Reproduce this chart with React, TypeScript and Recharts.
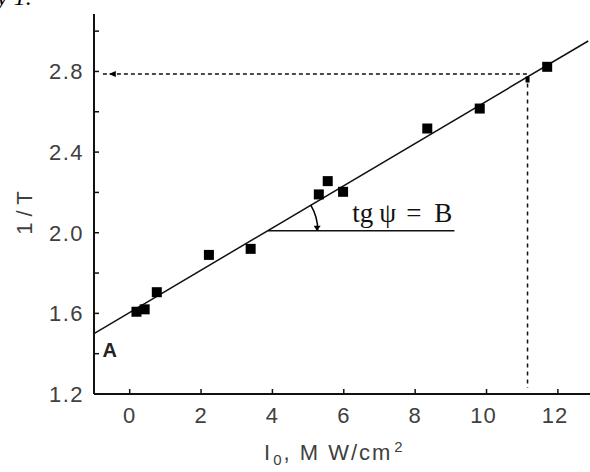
import React from 'react';
import { ComposedChart, Scatter, XAxis, YAxis, ReferenceLine, ReferenceDot } from 'recharts';

const intensity = [0.19, 0.42, 0.76, 2.22, 3.39, 5.3, 5.55, 5.98, 8.34, 9.81, 11.7];
const inverseT = [1.608, 1.62, 1.705, 1.89, 1.92, 2.19, 2.256, 2.203, 2.517, 2.616, 2.823];

const xTicks = [0, 2, 4, 6, 8, 10, 12];
const yTicks = [1.2, 1.4, 1.6, 1.8, 2.0, 2.2, 2.4, 2.6, 2.8, 3.0];
const yTickLabels = ['1.2', '', '1.6', '', '2.0', '', '2.4', '', '2.8', ''];

// fitted line end points and the read-off guide lines
const fitLine = [{ x: -1, y: 1.5 }, { x: 12.85, y: 2.951 }];
const readX = 11.15;
const readY = 2.787;
const angleY = 2.01;
const angleX = [3.87, 9.1];

const points = intensity.map((x, i) => ({ x, y: inverseT[i] }));

const grey = '#404040';
const sans = '"Liberation Sans", Arial, sans-serif';
const serif = '"Liberation Serif", "DejaVu Serif", serif';

const XTick = (props: any) => {
  const { x, y, payload } = props;
  return (
    <g>
      <line x1={x} y1={y} x2={x} y2={y - 5} stroke="#111" strokeWidth={1.5} />
      <text x={x - (payload.value >= 10 ? 3 : 0)} y={y + 29} textAnchor="middle" fill={grey}
        fontFamily={sans} fontSize={22} letterSpacing={1}>
        {payload.value}
      </text>
    </g>
  );
};

const YTick = (props: any) => {
  const { x, y, payload, index } = props;
  const label = yTickLabels[index];
  return (
    <g>
      <line x1={x} y1={y} x2={x + 5} y2={y} stroke="#111" strokeWidth={1.5} />
      {label && (
        <text x={x - 10} y={y + 8} textAnchor="end" fill={grey} fontFamily={sans}
          fontSize={22} letterSpacing={1.5}>
          {label}
        </text>
      )}
    </g>
  );
};

const square = (props: any) => (
  <rect x={props.cx - 5} y={props.cy - 5} width={10} height={10} fill="#000" />
);

// angle arc between the horizontal and the fitted line
const arc = (props: any) => {
  const { cx, cy } = props;
  const r = 50;
  const a = (31 * Math.PI) / 180;
  return (
    <g>
      <path d={`M ${cx + r} ${cy} A ${r} ${r} 0 0 0 ${cx + r * Math.cos(a)} ${cy - r * Math.sin(a)}`}
        fill="none" stroke="#000" strokeWidth={1.5} />
      <path d={`M ${cx + r - 4} ${cy - 5} L ${cx + r + 3} ${cy - 5} L ${cx + r - 1} ${cy} Z`} fill="#000" />
    </g>
  );
};

const formula = (props: any) => (
  <text y={props.cy} fontFamily={serif} fontSize={27} fill="#111">
    <tspan x={props.cx}>tg</tspan>
    <tspan x={props.cx + 27}>ψ</tspan>
    <tspan x={props.cx + 54}>=</tspan>
    <tspan x={props.cx + 82}>B</tspan>
  </text>
);

const letterA = (props: any) => (
  <text x={props.cx} y={props.cy} fontFamily={sans} fontWeight="bold" fontSize={20} fill="#222">
    A
  </text>
);

const leftArrow = (props: any) => (
  <path d={`M ${props.cx - 3} ${props.cy} L ${props.cx + 4} ${props.cy - 3} L ${props.cx + 4} ${props.cy + 3} Z`} fill="#000" />
);

const topMark = (props: any) => (
  <rect x={props.cx - 2} y={props.cy - 3} width={4} height={6} fill="#000" />
);

const App = () => (
  <div style={{ position: 'absolute', left: 0, top: 0, width: 590, height: 472, background: '#fff', overflow: 'hidden' }}>
    <div style={{ position: 'absolute', left: -3, top: -16, fontFamily: '"Liberation Serif", serif', fontStyle: 'italic', fontSize: 24, color: '#000' }}>
      y 1.
    </div>
    <ComposedChart width={590} height={472} margin={{ top: 14, right: 0, bottom: 0, left: 0 }}>
      <XAxis type="number" dataKey="x" domain={[-1, 12.9]} ticks={xTicks} allowDataOverflow
        axisLine={{ stroke: '#111', strokeWidth: 2 }} tickLine={false} tickSize={0} tickMargin={0}
        tick={<XTick />} interval={0} height={78}
        label={{ content: () => (
          <text x={264} y={460} fill={grey} fontFamily={sans} fontSize={22} letterSpacing={2}>
            I<tspan fontSize={15} dx={1} dy={5}>0</tspan><tspan dy={-5}>, M W/cm</tspan><tspan fontSize={15} dx={2} dy={-8}>2</tspan>
          </text>
        ) }} />
      <YAxis type="number" dataKey="y" domain={[1.2, 3.085]} ticks={yTicks} allowDataOverflow
        axisLine={{ stroke: '#111', strokeWidth: 2 }} tickLine={false} tickSize={0} tickMargin={0}
        tick={<YTick />} interval={0} width={94}
        label={{ content: () => (
          <text x={32} y={213} transform="rotate(-90, 32, 213)" textAnchor="middle" fill={grey}
            fontFamily={sans} fontSize={22}>
            1 / T
          </text>
        ) }} />
      <ReferenceLine segment={fitLine} stroke="#111" strokeWidth={1.5} />
      <ReferenceLine segment={[{ x: -0.75, y: readY }, { x: readX, y: readY }]} stroke="#111"
        strokeWidth={1.5} strokeDasharray="4 3" />
      <ReferenceLine segment={[{ x: readX, y: 2.74 }, { x: readX, y: 1.23 }]} stroke="#111"
        strokeWidth={1.5} strokeDasharray="4 4" />
      <ReferenceLine segment={[{ x: angleX[0], y: angleY }, { x: angleX[1], y: angleY }]} stroke="#111"
        strokeWidth={1.5} />
      <ReferenceDot x={angleX[0]} y={angleY} shape={arc} />
      <ReferenceDot x={6.24} y={2.054} shape={formula} />
      <ReferenceDot x={-0.76} y={1.383} shape={letterA} />
      <ReferenceDot x={-0.5} y={readY} shape={leftArrow} />
      <ReferenceDot x={readX} y={2.76} shape={topMark} />
      <Scatter data={points} shape={square} isAnimationActive={false} />
    </ComposedChart>
  </div>
);

export default App;
